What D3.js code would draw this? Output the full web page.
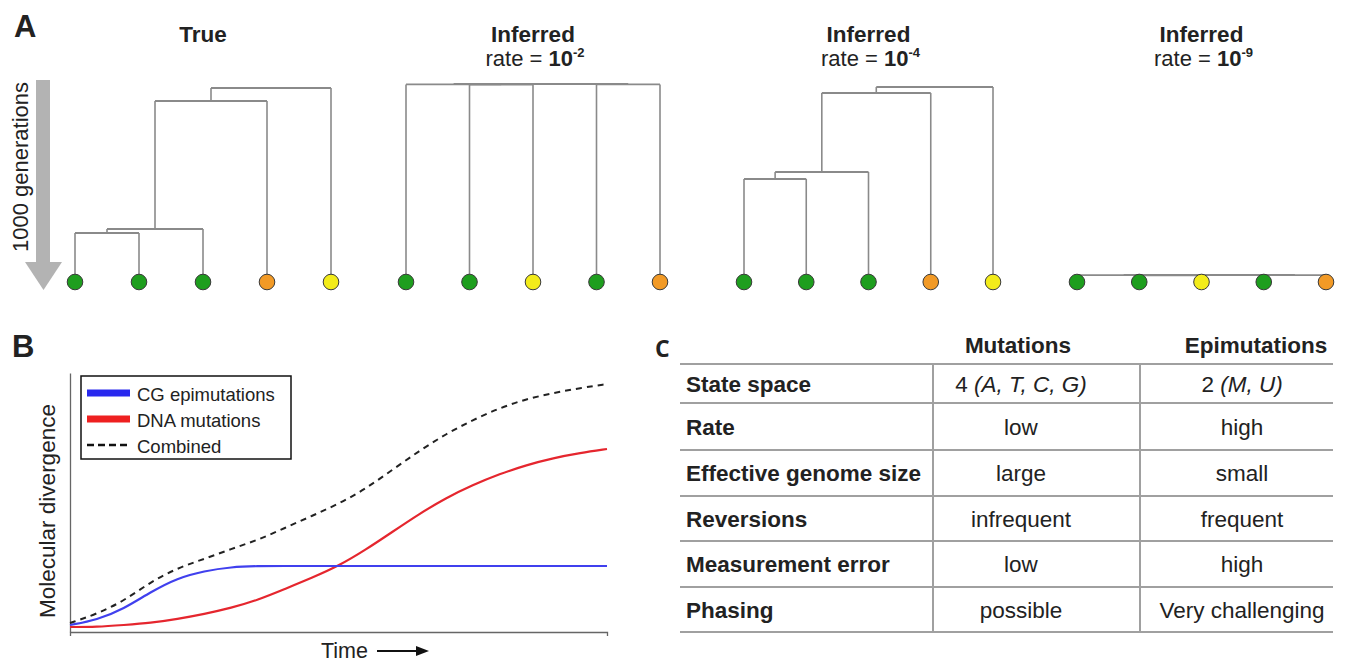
<!DOCTYPE html>
<html>
<head>
<meta charset="utf-8">
<script src="https://cdn.jsdelivr.net/npm/d3@7"></script>
<style>
  body { margin: 0; background: #fff; }
  svg { display: block; }
  text { font-family: "Liberation Sans", Arial, sans-serif; fill: #222; }
</style>
</head>
<body>
<div id="fig"></div>
<script>
var svgWidth = 1345;
var svgHeight = 662;

// ---------- Panel A data ----------
// node heights are in generations before present, leaves are state codes
var stateColors = { g: "#1e9e1e", o: "#f29a26", y: "#f3ec1a" };
var treeTitles = ["True", "Inferred", "Inferred", "Inferred"];
var treeRates = [null, "-2", "-4", "-9"];
var treeTrue  = { h: 970, c: [{ h: 905, c: [{ h: 265, c: [{ h: 245, c: ["g", "g"] }, "g"] }, "o"] }, "y"] };
var treeRate2 = { h: 990, c: [{ h: 988, c: ["g", { h: 987, c: ["g", "y"] }] }, { h: 988, c: ["g", "o"] }] };
var treeRate4 = { h: 975, c: [{ h: 945, c: [{ h: 550, c: [{ h: 515, c: ["g", "g"] }, "g"] }, "o"] }, "y"] };
var treeRate9 = { h: 35, c: [{ h: 34, c: ["g", { h: 33, c: ["g", "y"] }] }, { h: 34, c: ["g", "o"] }] };
var trees = [treeTrue, treeRate2, treeRate4, treeRate9];

// ---------- Panel B data ----------
var timePoints = [0, 5, 10, 15, 20, 25, 30, 35, 40, 45, 50, 55, 60, 65, 70, 75, 80, 85, 90, 95, 100];
var epiValues = [7, 12, 23, 40, 54, 61, 65, 66, 66, 66, 66, 66, 66, 66, 66, 66, 66, 66, 66, 66, 66];
var dnaValues = [5, 5, 7, 9, 13, 18, 24, 32, 43, 54, 66, 82, 100, 118, 134, 147, 158, 167, 174, 179, 183];
var combinedValues = [9, 18, 31, 50, 64, 73, 83, 92, 104, 116, 128, 143, 162, 181, 198, 212, 224, 233, 239, 244, 248];
var legendLabels = ["CG epimutations", "DNA mutations", "Combined"];

// ---------- Panel C data ----------
var tableColumns = ["Mutations", "Epimutations"];
var tableRows = ["State space", "Rate", "Effective genome size", "Reversions", "Measurement error", "Phasing"];
var mutationCells = ["4 |A, T, C, G|", "low", "large", "infrequent", "low", "possible"];
var epimutationCells = ["2 |M, U|", "high", "small", "frequent", "high", "Very challenging"];

var svg = d3.select("#fig")
  .append("svg")
  .attr("width", svgWidth)
  .attr("height", svgHeight);

svg.append("rect").attr("width", svgWidth).attr("height", svgHeight).attr("fill", "#fff");

// panel letters
svg.append("text").attr("x", 14).attr("y", 37).attr("font-size", 31).attr("font-weight", "bold").attr("fill", "#111").text("A");
svg.append("text").attr("x", 12).attr("y", 357).attr("font-size", 31).attr("font-weight", "bold").attr("fill", "#111").text("B");
svg.append("text").attr("x", 655).attr("y", 357).attr("font-size", 23).attr("font-weight", "bold")
  .style("font-family", "'Open Sans', sans-serif").attr("fill", "#111").text("C");

// ================= Panel A =================
var genScale = d3.scaleLinear().domain([0, 1000]).range([282, 82]);
var treeRanges = [[75, 331], [406, 660], [744, 993], [1077, 1326]];

// generations arrow
var arrow = svg.append("g");
arrow.append("rect")
  .attr("x", 36).attr("y", genScale(1000) - 2)
  .attr("width", 14).attr("height", genScale(0) - genScale(1000) - 18)
  .attr("fill", "#b3b3b3");
arrow.append("path")
  .attr("d", "M25," + (genScale(0) - 20) + "L62," + (genScale(0) - 20) + "L43.5," + (genScale(0) + 8) + "Z")
  .attr("fill", "#b3b3b3");
svg.append("text")
  .attr("transform", "translate(28," + genScale(575) + ") rotate(-90)")
  .attr("text-anchor", "middle")
  .attr("font-size", 22)
  .attr("fill", "#333")
  .text("1000 generations");

trees.forEach(function(tree, i) {
  var root = d3.hierarchy(tree, function(d) { return typeof d === "string" ? null : d.c; });
  var leaves = root.leaves();
  var xScale = d3.scalePoint()
    .domain(d3.range(leaves.length))
    .range(treeRanges[i]);

  leaves.forEach(function(l, k) { l.x = xScale(k); l.hgt = 0; });
  root.eachAfter(function(n) {
    if (n.children) {
      n.x = (n.children[0].x + n.children[n.children.length - 1].x) / 2;
      n.hgt = n.data.h;
    }
  });

  var g = svg.append("g");
  var cx = (treeRanges[i][0] + treeRanges[i][1]) / 2;

  // title
  g.append("text")
    .attr("x", cx).attr("y", 42)
    .attr("text-anchor", "middle")
    .attr("font-size", 22.5)
    .attr("font-weight", "bold")
    .text(treeTitles[i]);
  if (treeRates[i]) {
    var t = g.append("text")
      .attr("x", cx + 2).attr("y", 66)
      .attr("text-anchor", "middle")
      .attr("font-size", 22);
    t.append("tspan").text("rate = ");
    t.append("tspan").attr("font-weight", "bold").text("10");
    t.append("tspan").attr("font-weight", "bold").attr("font-size", 13).attr("dy", -9).text(treeRates[i]);
  }

  // branches
  root.descendants().forEach(function(n) {
    if (n.parent) {
      g.append("line")
        .attr("x1", n.x).attr("x2", n.x)
        .attr("y1", genScale(n.hgt)).attr("y2", genScale(n.parent.hgt))
        .attr("stroke", "#8a8a8a").attr("stroke-width", 1.6);
    }
    if (n.children) {
      g.append("line")
        .attr("x1", n.children[0].x).attr("x2", n.children[n.children.length - 1].x)
        .attr("y1", genScale(n.hgt)).attr("y2", genScale(n.hgt))
        .attr("stroke", "#8a8a8a").attr("stroke-width", 1.8);
    }
  });

  // tips
  g.selectAll("circle")
    .data(leaves)
    .enter()
    .append("circle")
    .attr("cx", function(d) { return d.x; })
    .attr("cy", genScale(0))
    .attr("r", 7.8)
    .attr("fill", function(d) { return stateColors[d.data]; })
    .attr("stroke", "#3a3a3a")
    .attr("stroke-width", 1);
});

// ================= Panel B =================
var bLeft = 70, bRight = 607, bTop = 373, bBottom = 632;
var xTime = d3.scaleLinear().domain([0, 100]).range([bLeft, bRight]);
var yDiv = d3.scaleLinear().domain([0, 259]).range([bBottom, bTop]);

svg.append("g")
  .attr("transform", "translate(0," + bBottom + ")")
  .call(d3.axisBottom(xTime).tickValues([]).tickSizeOuter(4));
svg.append("g")
  .attr("transform", "translate(" + bLeft + ",0)")
  .call(d3.axisLeft(yDiv).tickValues([]).tickSizeOuter(0));
svg.selectAll(".domain").attr("stroke", "#666").attr("stroke-width", 1.3);

var lineGen = function(vals) {
  return d3.line()
    .x(function(d, k) { return xTime(timePoints[k]); })
    .y(function(d) { return yDiv(d); })
    .curve(d3.curveBasis)(vals);
};

svg.append("path").attr("d", lineGen(dnaValues))
  .attr("fill", "none").attr("stroke", "#e5262e").attr("stroke-width", 2.2);
svg.append("path").attr("d", lineGen(epiValues))
  .attr("fill", "none").attr("stroke", "#4040ee").attr("stroke-width", 2.2);
svg.append("path").attr("d", lineGen(combinedValues))
  .attr("fill", "none").attr("stroke", "#222").attr("stroke-width", 2).attr("stroke-dasharray", "6,5");

// axis labels
svg.append("text")
  .attr("transform", "translate(55," + yDiv(121) + ") rotate(-90)")
  .attr("text-anchor", "middle")
  .attr("font-size", 22.5)
  .text("Molecular divergence");
svg.append("text").attr("x", 321).attr("y", 658).attr("font-size", 21.5).text("Time");
svg.append("line").attr("x1", 377).attr("x2", 418).attr("y1", 651).attr("y2", 651)
  .attr("stroke", "#111").attr("stroke-width", 1.8);
svg.append("path").attr("d", "M416,646L429,651L416,656Z").attr("fill", "#111");

// legend
var legend = svg.append("g");
legend.append("rect")
  .attr("x", 81).attr("y", 376).attr("width", 210).attr("height", 83)
  .attr("fill", "#fff").attr("stroke", "#111").attr("stroke-width", 1.5);
var legendColors = ["#2828ee", "#ee2020", "#111"];
legendLabels.forEach(function(lab, k) {
  var yy = 393 + k * 26;
  legend.append("line")
    .attr("x1", 87).attr("x2", 130).attr("y1", yy).attr("y2", yy)
    .attr("stroke", legendColors[k])
    .attr("stroke-width", k < 2 ? 7 : 2.5)
    .attr("stroke-dasharray", k < 2 ? null : "7,4");
  legend.append("text")
    .attr("x", 137).attr("y", yy + 8)
    .attr("font-size", 18.5)
    .attr("fill", "#222")
    .text(lab);
});

// ================= Panel C =================
var tLeft = 680, tRight = 1333;
var colLines = [933, 1140];
var rowEdges = [364, 403, 450, 496, 541, 587, 632];
var colCenters = [1021, 1242];
var table = svg.append("g");

rowEdges.forEach(function(y) {
  table.append("line").attr("x1", tLeft).attr("x2", tRight).attr("y1", y).attr("y2", y)
    .attr("stroke", "#a0a0a0").attr("stroke-width", 2);
});
colLines.forEach(function(x) {
  table.append("line").attr("x1", x).attr("x2", x).attr("y1", rowEdges[0]).attr("y2", rowEdges[rowEdges.length - 1])
    .attr("stroke", "#a0a0a0").attr("stroke-width", 2);
});

table.append("text").attr("x", 1018).attr("y", 353).attr("text-anchor", "middle")
  .attr("font-size", 22.5).attr("font-weight", "bold").attr("fill", "#d42a30").text(tableColumns[0]);
table.append("text").attr("x", 1256).attr("y", 353).attr("text-anchor", "middle")
  .attr("font-size", 22.5).attr("font-weight", "bold").attr("fill", "#2a2ad8").text(tableColumns[1]);

function cellText(sel, str) {
  // text between bars is italic
  str.split("|").forEach(function(part, k) {
    if (part.length) sel.append("tspan").attr("font-style", k % 2 ? "italic" : null).text(k % 2 ? "(" + part + ")" : part);
  });
}

tableRows.forEach(function(r, k) {
  var base = (rowEdges[k] + rowEdges[k + 1]) / 2 + 8;
  table.append("text").attr("x", 686).attr("y", base)
    .attr("font-size", 22.5).attr("font-weight", "bold").attr("fill", "#1a1a1a").text(r);
  cellText(table.append("text").attr("x", colCenters[0]).attr("y", base)
    .attr("text-anchor", "middle").attr("font-size", 22.5).attr("fill", "#2a2a2a"), mutationCells[k]);
  cellText(table.append("text").attr("x", colCenters[1]).attr("y", base)
    .attr("text-anchor", "middle").attr("font-size", 22.5).attr("fill", "#2a2a2a"), epimutationCells[k]);
});
</script>
</body>
</html>
